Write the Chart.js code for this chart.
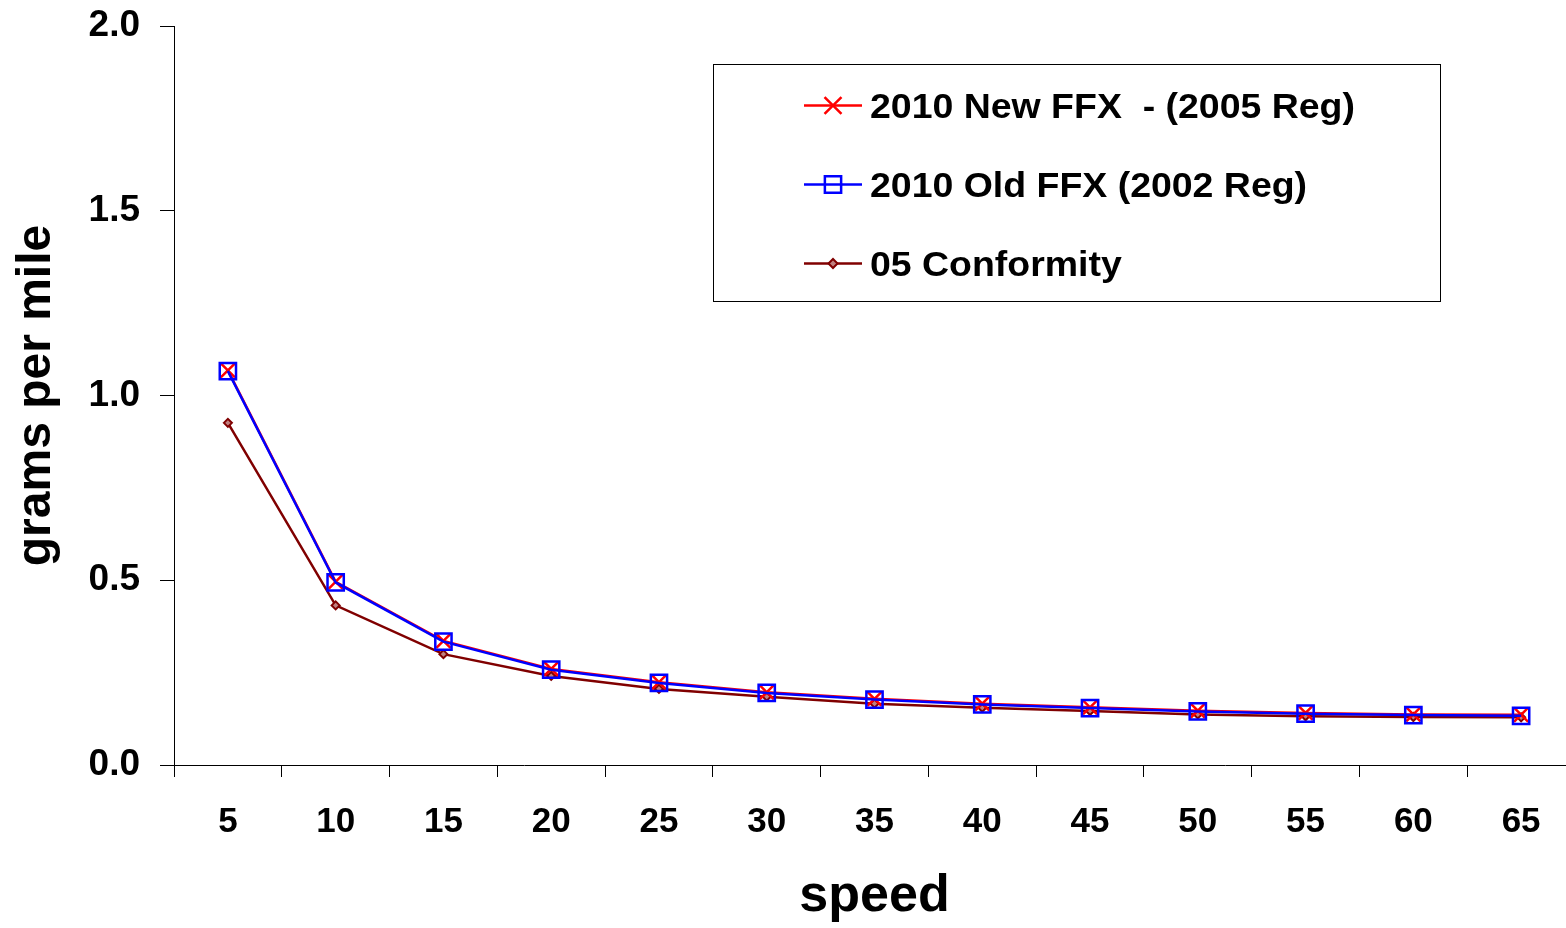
<!DOCTYPE html>
<html>
<head>
<meta charset="utf-8">
<script src="https://cdn.jsdelivr.net/npm/chart.js@4/dist/chart.umd.min.js"></script>
<style>
  html, body { margin: 0; background: #fff; overflow: hidden; }
  canvas { display: block; }
</style>
</head>
<body>
<!-- plot runs a little past the right edge of the window, as in the original -->
<canvas id="chart-speed" width="1575" height="928"></canvas>
<script>
// speeds on the x axis
const speeds = ['5', '10', '15', '20', '25', '30', '35', '40', '45', '50', '55', '60', '65'];

// grams per mile
const newFFX = [1.068, 0.496, 0.336, 0.260, 0.224, 0.197, 0.179, 0.166, 0.156, 0.147, 0.141, 0.137, 0.136];
const oldFFX = [1.066, 0.494, 0.334, 0.258, 0.222, 0.195, 0.177, 0.164, 0.154, 0.145, 0.139, 0.135, 0.133];
const conformity = [0.926, 0.432, 0.300, 0.241, 0.206, 0.185, 0.166, 0.155, 0.146, 0.137, 0.132, 0.130, 0.129];

const seriesNames = ['2010 New FFX  - (2005 Reg)', '2010 Old FFX (2002 Reg)', '05 Conformity'];
const yTicks = [0, 0.5, 1.0, 1.5, 2.0];

const FONT = "'Liberation Sans', Arial, sans-serif";

// legend box drawn inside the plot, like the original
const boxLegend = {
  id: 'boxLegend',
  afterDraw(chart) {
    const ctx = chart.ctx;
    ctx.save();
    ctx.fillStyle = '#fff';
    ctx.fillRect(713.5, 64.5, 727, 237);
    ctx.strokeStyle = '#000';
    ctx.lineWidth = 1;
    ctx.strokeRect(713.5, 64.5, 727, 237);

    const rows = [105.5, 184.5, 263.5];
    chart.data.datasets.forEach(function(ds, i) {
      const y = rows[i];
      ctx.strokeStyle = ds.borderColor;
      ctx.lineWidth = 2.5;
      ctx.beginPath();
      ctx.moveTo(804, y);
      ctx.lineTo(862, y);
      ctx.stroke();
      ctx.strokeStyle = ds.pointBorderColor;
      ctx.fillStyle = ds.pointBackgroundColor;
      ctx.lineWidth = ds.pointBorderWidth;
      Chart.helpers.drawPoint(ctx, {
        pointStyle: ds.pointStyle,
        radius: ds.legendRadius,
        rotation: 0,
        borderWidth: ds.pointBorderWidth
      }, 833, y);

      ctx.save();
      ctx.translate(870, y + 12.5);
      ctx.scale(1.07, 1);
      ctx.fillStyle = '#000';
      ctx.font = 'bold 35px ' + FONT;
      ctx.textAlign = 'left';
      ctx.textBaseline = 'alphabetic';
      ctx.fillText(ds.label, 0, 0);
      ctx.restore();
    });
    ctx.restore();
  }
};

const data_speed = {
  labels: speeds,
  datasets: [{
    label: seriesNames[0],
    data: newFFX,
    borderColor: '#FF0000',
    borderWidth: 2.5,
    pointStyle: 'crossRot',
    pointRadius: 10,
    legendRadius: 12,
    pointBorderColor: '#FF0000',
    pointBackgroundColor: 'rgba(0,0,0,0)',
    pointBorderWidth: 2.5,
    order: 1
  }, {
    label: seriesNames[1],
    data: oldFFX,
    borderColor: '#0000FF',
    borderWidth: 2.5,
    pointStyle: 'rect',
    pointRadius: 11.5,
    legendRadius: 11.5,
    pointBorderColor: '#0000FF',
    pointBackgroundColor: 'rgba(0,0,0,0)',
    pointBorderWidth: 2.5,
    order: 0
  }, {
    label: seriesNames[2],
    data: conformity,
    borderColor: '#800000',
    borderWidth: 2.5,
    pointStyle: 'rectRot',
    pointRadius: 4,
    legendRadius: 4.5,
    pointBorderColor: '#800000',
    pointBackgroundColor: '#C08080',
    pointBorderWidth: 2,
    order: 2
  }]
};

const config_speed = {
  type: 'line',
  data: data_speed,
  plugins: [boxLegend],
  options: {
    responsive: false,
    animation: false,
    layout: { autoPadding: false, padding: { top: 26, right: 0, bottom: 0, left: 0 } },
    plugins: {
      legend: { display: false },
      tooltip: { enabled: false }
    },
    elements: { line: { tension: 0 } },
    scales: {
      x: {
        offset: true,
        grid: {
          offset: true,
          drawOnChartArea: false,
          drawTicks: true,
          tickLength: 12,
          color: '#000',
          tickColor: '#000'
        },
        border: { display: true, color: '#000', width: 1 },
        ticks: {
          color: '#000',
          padding: 24,
          maxRotation: 0,
          font: { family: FONT, size: 35, weight: 'bold' }
        },
        title: {
          display: true,
          text: 'speed',
          color: '#000',
          padding: { top: 0, bottom: 5 },
          font: { family: FONT, size: 52, weight: 'bold', lineHeight: 1 }
        },
        afterFit(scale) {
          scale.height = 163;
          scale.paddingLeft = 0;
          scale.paddingRight = 0;
        }
      },
      y: {
        min: 0,
        max: 2,
        afterBuildTicks(scale) { scale.ticks = yTicks.map(v => ({ value: v })); },
        grid: {
          drawOnChartArea: false,
          drawTicks: true,
          tickLength: 14,
          color: '#000',
          tickColor: '#000'
        },
        border: { display: true, color: '#000', width: 1 },
        ticks: {
          color: '#000',
          padding: 20,
          font: { family: FONT, size: 37, weight: 'bold' },
          callback: v => Number(v).toFixed(1)
        },
        title: {
          display: true,
          text: 'grams per mile',
          color: '#000',
          padding: { top: 13, bottom: 0 },
          font: { family: FONT, size: 48, weight: 'bold', lineHeight: 1 }
        },
        afterFit(scale) {
          scale.width = 174;
          scale.paddingTop = 0;
          scale.paddingBottom = 0;
        }
      }
    }
  }
};

const myChart_speed = new Chart(
  document.getElementById('chart-speed'),
  config_speed
);
</script>
</body>
</html>
